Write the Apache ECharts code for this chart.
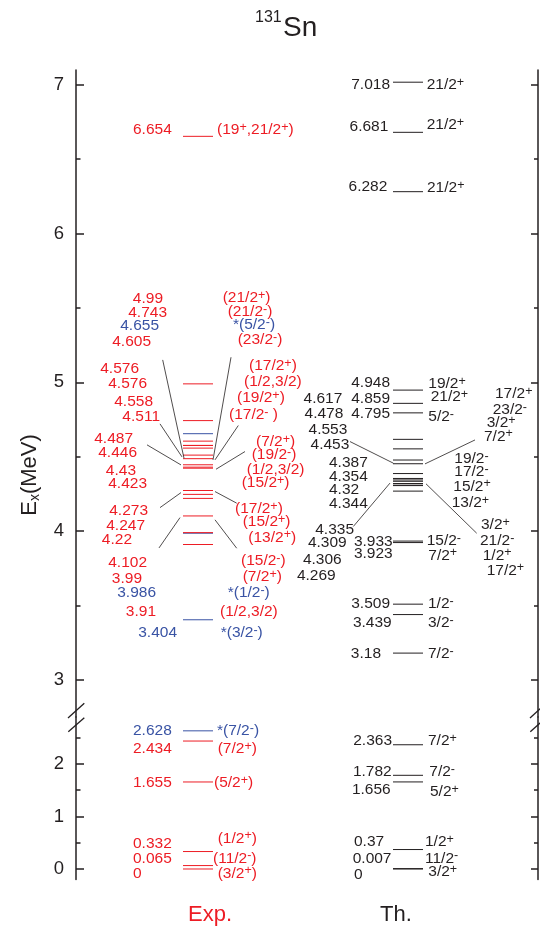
<!DOCTYPE html>
<html><head><meta charset="utf-8">
<script src="https://cdn.jsdelivr.net/npm/echarts@6/dist/echarts.min.js"></script>
<style>html,body{margin:0;padding:0;background:#fff}#c{width:540px;height:934px}</style>
</head><body><div id="c"></div>
<script>
// ---------- data ----------
const expEnergies = [0,0.065,0.332,1.655,2.434,2.628,3.404,3.91,3.986,3.99,4.102,4.22,4.247,4.273,4.423,4.43,4.446,4.487,4.511,4.558,4.576,4.576,4.605,4.655,4.743,4.99,6.654];
const expSpins = ['(3/2+)','(11/2-)','(1/2+)','(5/2+)','(7/2+)','*(7/2-)','*(3/2-)','(1/2,3/2)','*(1/2-)','(7/2+)','(15/2-)','(13/2+)','(15/2+)','(17/2+)','(15/2+)','(1/2,3/2)','(19/2-)','(7/2+)','(17/2- )','(19/2+)','(1/2,3/2)','(17/2+)','(23/2-)','*(5/2-)','(21/2-)','(21/2+)','(19+,21/2+)'];
const thEnergies = [0,0.007,0.37,1.656,1.782,2.363,3.18,3.439,3.509,3.923,3.933,4.269,4.306,4.309,4.32,4.335,4.344,4.354,4.387,4.453,4.478,4.553,4.617,4.795,4.859,4.948,6.282,6.681,7.018];
const thSpins = ['3/2+','11/2-','1/2+','5/2+','7/2-','7/2+','7/2-','3/2-','1/2-','7/2+','15/2-','17/2+','1/2+','21/2-','15/2+','3/2+','13/2+','17/2-','19/2-','7/2+','23/2-','3/2+','17/2+','5/2-','21/2+','19/2+','21/2+','21/2+','21/2+'];
const upperMajorTicks = [3,4,5,6,7];
const upperMinorTicks = [3.5,4.5,5.5,6.5];
const lowerMajorTicks = [0,1,2];
const lowerMinorTicks = [0.5,1.5,2.5];
const columnNames = ['Exp.','Th.'];

// ---------- layout (label anchors: [x px, E MeV, align]) ----------
const expNumPos = [[133,-0.082,'left'],[133,0.204,'left'],[133,0.476,'left'],[133,1.632,'left'],[133,2.280,'left'],[133,2.629,'left'],
 [177,3.314,'right'],[156,3.455,'right'],[156,3.583,'right'],[142,3.677,'right'],[147,3.785,'right'],[132,3.941,'right'],[145,4.035,'right'],
 [148,4.138,'right'],[147,4.322,'right'],[136,4.407,'right'],[137,4.528,'right'],[133,4.620,'right'],[160,4.770,'right'],[153,4.871,'right'],
 [147,4.990,'right'],[139,5.091,'right'],[151,5.274,'right'],[159,5.380,'right'],[167,5.469,'right'],[163,5.561,'right'],[133,6.697,'left']];
const expSpinPos = [[217.7,-0.082],[213,0.204],[217.7,0.585],[214,1.632],[217.7,2.280],[217,2.629],[220.7,3.314],[220,3.459],[227.7,3.583],
 [242.7,3.694],[241,3.800],[248.3,3.959],[242.7,4.064],[235,4.148],[241.7,4.326],[246.7,4.416],[251.7,4.513],[256,4.602],[229,4.782],
 [237,4.894],[244,5.005],[249,5.111],[237.7,5.286],[233,5.387],[227.7,5.476],[222.7,5.568],[217,6.697]];
const thNumPos = [[354,-0.101,'left'],[352.7,0.204,'left'],[354,0.520,'left'],[390.7,1.505,'right'],[391.7,1.853,'right'],[392,2.438,'right'],
 [381,3.175,'right'],[391.7,3.385,'right'],[390,3.511,'right'],[392.7,3.845,'right'],[392.7,3.930,'right'],[335.7,3.699,'right'],
 [341.7,3.807,'right'],[346.7,3.919,'right'],[329,4.277,'left'],[354,4.008,'right'],[329,4.183,'left'],[329,4.367,'left'],[329,4.461,'left'],
 [349.3,4.580,'right'],[343.3,4.788,'right'],[347.3,4.685,'right'],[342.3,4.889,'right'],[390,4.788,'right'],[390,4.889,'right'],
 [390,4.995,'right'],[387.3,6.316,'right'],[388.3,6.720,'right'],[390,7.000,'right']];
const thSpinPos = [[428.3,-0.051],[425,0.204],[425,0.520],[430,1.472],[429.3,1.853],[428,2.438],[428,3.175],[428,3.385],[428,3.511],
 [428.3,3.836],[426.7,3.936],[486.7,3.735],[482.7,3.836],[480,3.936],[453.3,4.300],[481,4.044],[451.7,4.188],[454.3,4.400],[454.3,4.486],
 [484,4.636],[492.7,4.815],[486.7,4.726],[495,4.923],[428.3,4.770],[430.7,4.903],[428.3,4.990],[427,6.306],[426.7,6.731],[426.7,7.000]];
// leader lines [x1,E1,x2,E2]
const leaders = [[162.7,5.151,184,4.490],[160,4.721,182,4.499],[147,4.580,181,4.445],[160,4.158,181,4.259],[159,3.887,180,4.091],
 [231,5.169,213,4.479],[238.3,4.710,215,4.479],[245,4.535,216,4.416],[215,4.266,236.7,4.188],[215,4.076,236.7,3.885],
 [350,4.602,393.3,4.457],[353.3,4.031,390,4.323],[425,4.452,475,4.613],[426,4.318,476.7,3.986]];

// ---------- styles ----------
const RED='#ed1c24', BLUE='#3953a4', BLACK='#231f20';
const FF='"Liberation Sans", Arial, sans-serif';
const FS=15.5;
const SPLIT=2.75; // axis break
const expCol=[183,213], thCol=[393,423];

function richStr(s){
  let out='', buf='';
  for (const ch of s){
    if (ch==='+'||ch==='-'){ if(buf){out+='{b|'+buf+'}';buf='';} out+='{s|'+ch+'}'; }
    else buf+=ch;
  }
  if (buf) out+='{b|'+buf+'}';
  return out;
}
function richStyles(color){
  return { b:{fontSize:FS, fontFamily:FF, fill:color, color:color, lineHeight:18},
           s:{fontSize:12.5, fontFamily:FF, fill:color, color:color, lineHeight:8, verticalAlign:'top'} };
}

const levelItems=[[],[]], textItems=[[],[]];
function gi(E){ return E>=SPLIT ? 0 : 1; }
expEnergies.forEach((E,i)=>{
  const c = expSpins[i].startsWith('*') ? BLUE : RED;
  levelItems[gi(E)].push({x1:expCol[0], x2:expCol[1], E:E, color:c});
  const np=expNumPos[i], sp=expSpinPos[i];
  textItems[gi(np[1])].push({x:np[0], E:np[1], align:np[2], text:'{b|'+String(E)+'}', color:c});
  textItems[gi(sp[1])].push({x:sp[0], E:sp[1], align:'left', text:richStr(expSpins[i]), color:c});
});
thEnergies.forEach((E,i)=>{
  levelItems[gi(E)].push({x1:thCol[0], x2:thCol[1], E:E, color:BLACK});
  const np=thNumPos[i], sp=thSpinPos[i];
  textItems[gi(np[1])].push({x:np[0], E:np[1], align:np[2], text:'{b|'+String(E)+'}', color:BLACK});
  textItems[gi(sp[1])].push({x:sp[0], E:sp[1], align:'left', text:richStr(thSpins[i]), color:BLACK});
});

function levelSeries(g){
  const items=levelItems[g];
  return {type:'custom', coordinateSystem:'cartesian2d', xAxisIndex:g, yAxisIndex:g*4, silent:true,
    data: items.map(d=>[d.x1,d.E,d.x2]),
    renderItem(params, api){
      const d=items[params.dataIndex];
      const p1=api.coord([api.value(0),api.value(1)]), p2=api.coord([api.value(2),api.value(1)]);
      return {type:'line', shape:{x1:p1[0],y1:p1[1],x2:p2[0],y2:p2[1]}, style:{stroke:d.color, lineWidth:1}};
    }};
}
function textSeries(g){
  const items=textItems[g];
  return {type:'custom', coordinateSystem:'cartesian2d', xAxisIndex:g, yAxisIndex:g*4, silent:true,
    data: items.map(d=>[d.x,d.E]),
    renderItem(params, api){
      const d=items[params.dataIndex];
      const p=api.coord([api.value(0),api.value(1)]);
      return {type:'text', x:p[0], y:p[1], style:{text:d.text, rich:richStyles(d.color), align:d.align, verticalAlign:'middle', fill:d.color, fontSize:FS, fontFamily:FF}};
    }};
}
const leaderSeries = {type:'custom', coordinateSystem:'cartesian2d', xAxisIndex:0, yAxisIndex:0, silent:true,
  data: leaders,
  renderItem(params, api){
    const p1=api.coord([api.value(0),api.value(1)]), p2=api.coord([api.value(2),api.value(3)]);
    return {type:'line', shape:{x1:p1[0],y1:p1[1],x2:p2[0],y2:p2[1]}, style:{stroke:BLACK, lineWidth:0.8}};
  }};

function yAxes(g, min, max, major, minor){
  const base={type:'value', gridIndex:g, min:min, max:max, splitLine:{show:false}, axisPointer:{show:false}};
  const line={show:true, lineStyle:{color:BLACK, width:1.5}};
  return [
    Object.assign({},base,{position:'left', axisLine:line,
      axisTick:{show:true, inside:true, length:8, customValues:major, lineStyle:{color:BLACK,width:1.5}},
      axisLabel:{show:true, customValues:major, margin:12, fontSize:18.5, fontFamily:FF, color:BLACK}}),
    Object.assign({},base,{position:'left', axisLine:{show:false},
      axisTick:{show:true, inside:true, length:4.5, customValues:minor, lineStyle:{color:BLACK,width:1.5}},
      axisLabel:{show:false}}),
    Object.assign({},base,{position:'right', axisLine:line,
      axisTick:{show:true, inside:true, length:7, customValues:major, lineStyle:{color:BLACK,width:1.5}},
      axisLabel:{show:false}}),
    Object.assign({},base,{position:'right', axisLine:{show:false},
      axisTick:{show:true, inside:true, length:4, customValues:minor, lineStyle:{color:BLACK,width:1.5}},
      axisLabel:{show:false}})
  ];
}

const chart = echarts.init(document.getElementById('c'), null, {renderer:'canvas'});
const slash=(x1,y1,x2,y2)=>({type:'line', shape:{x1,y1,x2,y2}, style:{stroke:BLACK, lineWidth:1.3}, z:10});
chart.setOption({
  animation:false,
  backgroundColor:'#fff',
  grid:[
    {left:76, right:2, top:70, height:647.06, outerBoundsMode:'none', containLabel:false},
    {left:76, right:2, top:717.06, bottom:54.5, outerBoundsMode:'none', containLabel:false}
  ],
  xAxis:[
    {type:'value', gridIndex:0, min:76, max:538, show:false},
    {type:'value', gridIndex:1, min:76, max:538, show:false}
  ],
  yAxis:[].concat(yAxes(0,SPLIT,7.1,upperMajorTicks,upperMinorTicks), yAxes(1,-0.2,2.89,lowerMajorTicks,lowerMinorTicks)),
  series:[levelSeries(0), levelSeries(1), leaderSeries, textSeries(0), textSeries(1)],
  graphic:[
    {type:'text', x:255, y:18, style:{text:'131', fontSize:16, fontFamily:FF, fill:BLACK, verticalAlign:'middle'}},
    {type:'text', x:283, y:28, style:{text:'Sn', fontSize:28, fontFamily:FF, fill:BLACK, verticalAlign:'middle'}},
    {type:'text', x:30, y:475, rotation:Math.PI/2, style:{text:'{e|E}{x|x}{e|(MeV)}', align:'center', verticalAlign:'middle',
      rich:{e:{fontSize:22, fontFamily:FF, fill:BLACK, lineHeight:24}, x:{fontSize:14, fontFamily:FF, fill:BLACK, lineHeight:10, verticalAlign:'bottom'}}}},
    {type:'text', x:210, y:915, style:{text:columnNames[0], fontSize:22, fontFamily:FF, fill:RED, align:'center', verticalAlign:'middle'}},
    {type:'text', x:396, y:915, style:{text:columnNames[1], fontSize:22, fontFamily:FF, fill:BLACK, align:'center', verticalAlign:'middle'}},
    slash(68,718,84.3,703.3), slash(68.3,731.7,84.3,717.7),
    slash(530,718,546.3,703.3), slash(530.3,731.7,546.3,717.7)
  ]
});
</script></body></html>
